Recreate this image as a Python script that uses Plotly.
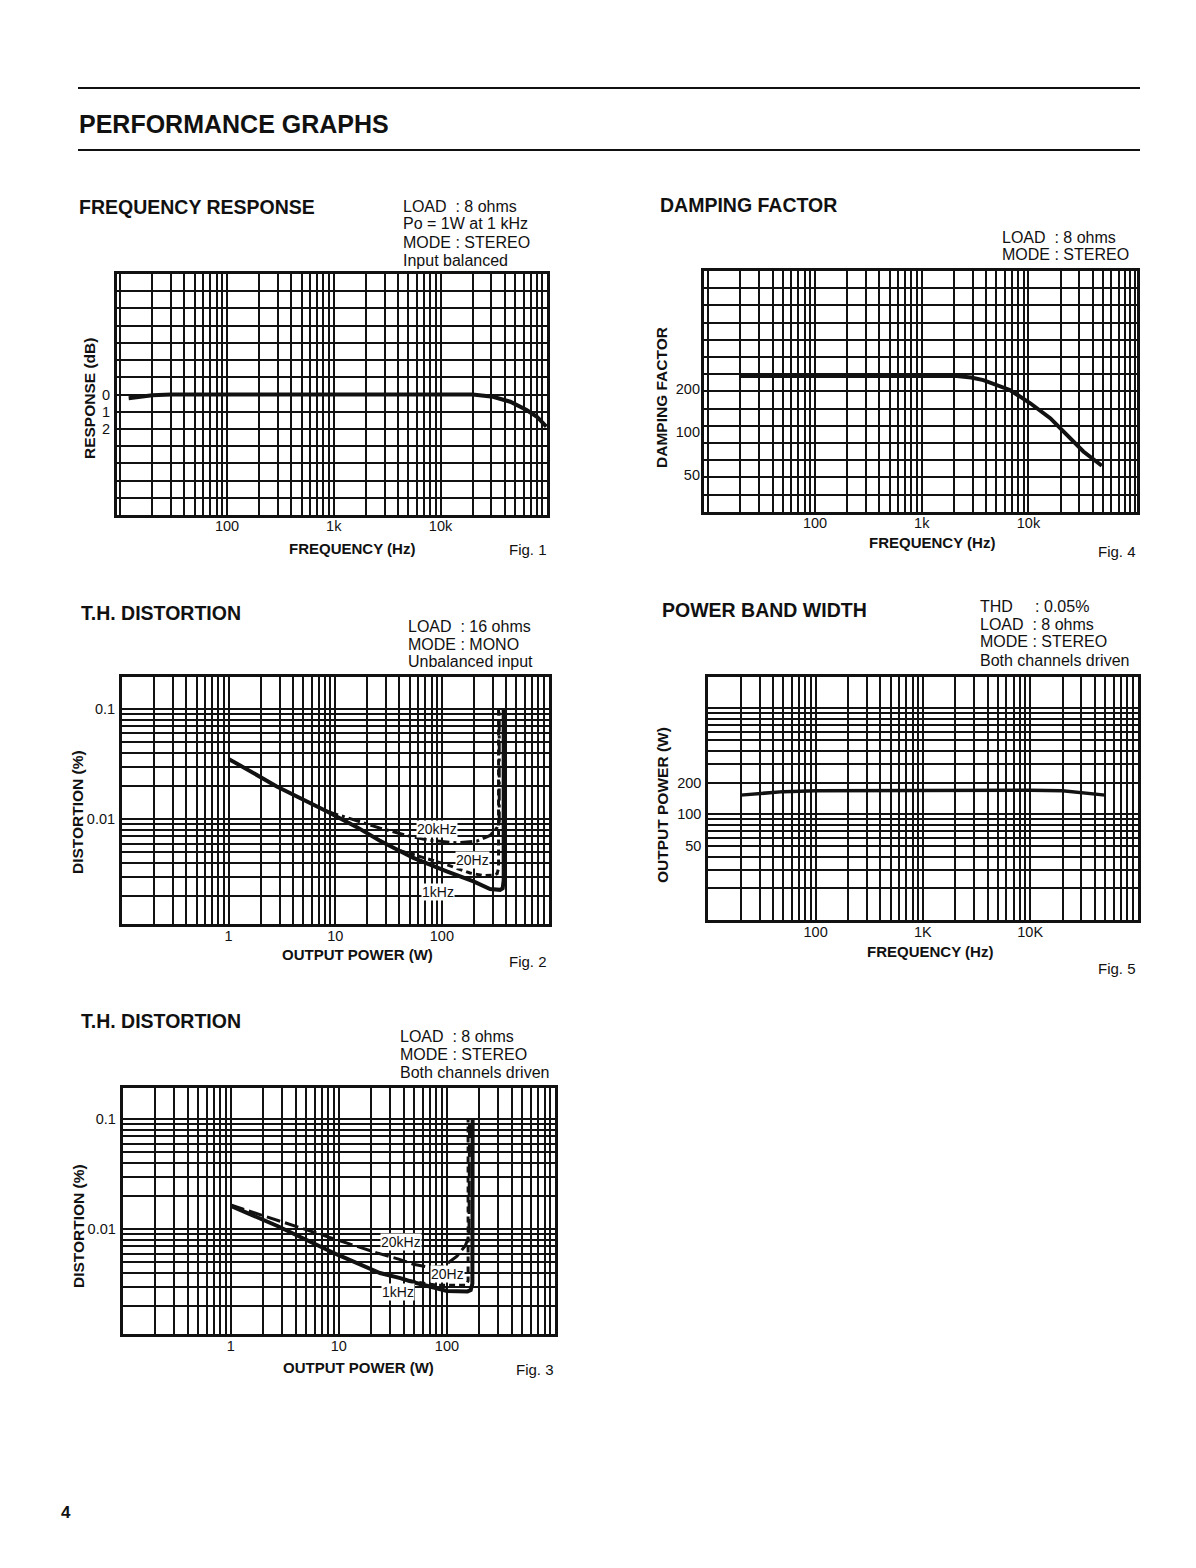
import math
import plotly.graph_objects as go

W, H = 1196, 1568
INK = "#111111"
FONT = "Liberation Sans, Arial, sans-serif"

# ---------------- data ----------------
# Fig. 1  Frequency response (dB, printed as 0 / 1 / 2 below 0 dB)
fr_freq = [12, 20, 30, 100, 1000, 10000, 20000, 31000, 45000, 64000, 80000, 98000]
fr_resp = [-0.22, -0.05, 0.0, 0.0, 0.0, 0.0, 0.0, -0.13, -0.42, -0.9, -1.29, -1.87]
fr_ytick_vals = [0, -1, -2]
fr_ytick_text = ["0", "1", "2"]

freq_tick_vals = [100, 1000, 10000]
freq_tick_text = ["100", "1k", "10k"]
pbw_tick_text = ["100", "1K", "10K"]

# Fig. 4  Damping factor
df_freq = [20, 100, 1000, 2130, 2900, 3780, 6700, 10400, 16000, 22900, 32700, 48700]
df_val = [247, 247, 247, 247, 241, 231, 197, 159, 125, 95, 73, 58]
df_tick_vals = [200, 100, 50]
df_tick_text = ["200", "100", "50"]

# Fig. 2  THD, 16 ohms mono
thd16_1k_p = [1, 2.8, 8.3, 15.8, 26, 54, 111, 198, 283, 351, 372, 380, 380]
thd16_1k_d = [0.0352, 0.0199, 0.0118, 0.0085, 0.0064, 0.00444, 0.00336, 0.00272,
              0.00232, 0.00228, 0.00236, 0.0028, 0.1]
thd16_20k_p = [8.3, 15.8, 26, 47, 77, 138, 212, 283, 330, 345, 345]
thd16_20k_d = [0.0118, 0.0096, 0.0083, 0.0071, 0.0064, 0.0061, 0.0063, 0.0071, 0.0084, 0.0095, 0.1]
thd16_20h_p = [40, 54, 111, 184, 245, 304, 330, 340, 340]
thd16_20h_d = [0.0052, 0.00477, 0.00386, 0.00324, 0.00307, 0.0031, 0.0032, 0.0036, 0.1]

# Fig. 3  THD, 8 ohms stereo
thd8_1k_p = [1, 2.7, 9.6, 24, 37, 49, 100, 155, 166, 172, 173]
thd8_1k_d = [0.0163, 0.0107, 0.0059, 0.0040, 0.0036, 0.0033, 0.00275, 0.00272, 0.0028, 0.0032, 0.1]
thd8_20k_p = [1, 4.4, 9.6, 22.5, 37, 49, 70, 93, 124, 148, 160, 162]
thd8_20k_d = [0.0166, 0.0103, 0.0080, 0.0061, 0.0053, 0.0048, 0.0045, 0.0046, 0.0057, 0.0071, 0.0086, 0.1]
thd8_20h_p = [45, 80, 107, 150, 157, 157]
thd8_20h_d = [0.0034, 0.0031, 0.0031, 0.0031, 0.0034, 0.1]

thd_x_vals = [1, 10, 100]
thd_x_text = ["1", "10", "100"]
thd_y_vals = [0.1, 0.01]
thd_y_text = ["0.1", "0.01"]

# Fig. 5  Power band width
pb_freq = [20, 30, 50, 100, 1000, 10000, 20000, 30000, 50000]
pb_pow = [152, 158, 164, 167, 169, 169, 167, 161, 152]
pb_tick_vals = [200, 100, 50]
pb_tick_text = ["200", "100", "50"]


# ---------------- helpers ----------------
def log_grid(lo, hi):
    vals = []
    for e in range(math.floor(lo) - 1, math.ceil(hi) + 1):
        for m in range(1, 10):
            v = m * 10.0 ** e
            if lo - 1e-6 <= math.log10(v) <= hi + 1e-6:
                vals.append(v)
    return vals


def labelled(vals, lab_vals, lab_text):
    out = []
    for v in vals:
        t = ""
        for lv, lt in zip(lab_vals, lab_text):
            if abs(v - lv) <= 1e-9 * max(1.0, abs(lv)):
                t = lt
        out.append(t)
    return out


def xdom(a, b):
    return [a / W, b / W]


def ydom(top, bottom):
    return [1 - bottom / H, 1 - top / H]


TICKFONT = dict(family=FONT, size=14.5, color=INK)
base_axis = dict(showline=True, mirror=True, linewidth=3, linecolor=INK,
                 showgrid=True, gridcolor=INK, gridwidth=1.6, zeroline=False,
                 ticks="", tickfont=TICKFONT,
                 fixedrange=True, tickmode="array")


def log_axis(dom, rng, anchor, lab_vals, lab_text, is_x):
    g = log_grid(rng[0], rng[1])
    d = dict(base_axis)
    d.update(type="log", range=rng, domain=dom, anchor=anchor,
             tickvals=g, ticktext=labelled(g, lab_vals, lab_text),
             ticklabelstandoff=-4 if is_x else 1)
    return d


fig = go.Figure()

line_solid = dict(color=INK, width=4)

# Fig 1
fig.add_trace(go.Scatter(x=fr_freq, y=fr_resp, mode="lines", line=line_solid,
                         xaxis="x", yaxis="y", hoverinfo="skip"))
# Fig 2
fig.add_trace(go.Scatter(x=thd16_20k_p, y=thd16_20k_d, mode="lines",
                         line=dict(color=INK, width=3, dash="12px,4px,3px,4px"),
                         xaxis="x2", yaxis="y2", hoverinfo="skip"))
fig.add_trace(go.Scatter(x=thd16_20h_p, y=thd16_20h_d, mode="lines",
                         line=dict(color=INK, width=3, dash="6px,4px"),
                         xaxis="x2", yaxis="y2", hoverinfo="skip"))
fig.add_trace(go.Scatter(x=thd16_1k_p, y=thd16_1k_d, mode="lines", line=line_solid,
                         xaxis="x2", yaxis="y2", hoverinfo="skip"))
# Fig 3
fig.add_trace(go.Scatter(x=thd8_20k_p, y=thd8_20k_d, mode="lines",
                         line=dict(color=INK, width=3, dash="14px,5px"),
                         xaxis="x3", yaxis="y3", hoverinfo="skip"))
fig.add_trace(go.Scatter(x=thd8_20h_p, y=thd8_20h_d, mode="lines",
                         line=dict(color=INK, width=3, dash="6px,4px"),
                         xaxis="x3", yaxis="y3", hoverinfo="skip"))
fig.add_trace(go.Scatter(x=thd8_1k_p, y=thd8_1k_d, mode="lines", line=line_solid,
                         xaxis="x3", yaxis="y3", hoverinfo="skip"))
# Fig 4 (grid axis carries the curve, overlay axis carries the value labels)
fig.add_trace(go.Scatter(x=df_freq, y=df_val, mode="lines", line=line_solid,
                         xaxis="x4", yaxis="y4", hoverinfo="skip"))
fig.add_trace(go.Scatter(x=df_freq, y=df_val, mode="lines",
                         line=dict(color="rgba(0,0,0,0)", width=0),
                         xaxis="x4", yaxis="y6", hoverinfo="skip"))
# Fig 5
fig.add_trace(go.Scatter(x=pb_freq, y=pb_pow, mode="lines", line=dict(color=INK, width=3.5),
                         xaxis="x5", yaxis="y5", hoverinfo="skip"))

# ---- axes ----
fr_y = dict(base_axis)
fr_rows = list(range(-7, 8))
fr_y.update(range=[-7, 7], domain=ydom(274, 515), anchor="x",
            tickvals=fr_rows, ticktext=labelled(fr_rows, fr_ytick_vals, fr_ytick_text),
            ticklabelstandoff=1)

df_lo, df_hi = 1.441, 3.129
df_rows = [10 ** (df_lo + (df_hi - df_lo) * k / 14) for k in range(15)]
df_y = dict(base_axis)
df_y.update(type="log", range=[df_lo, df_hi], domain=ydom(271, 511.7), anchor="x4",
            tickvals=df_rows, ticktext=[""] * len(df_rows))
df_y_lab = dict(type="log", range=[df_lo, df_hi], overlaying="y4", anchor="x4", side="left",
                showgrid=False, showline=False, zeroline=False, ticks="",
                tickmode="array", tickvals=df_tick_vals, ticktext=df_tick_text,
                tickfont=TICKFONT, ticklabelstandoff=3, fixedrange=True)

fig.update_layout(
    width=W, height=H, margin=dict(l=0, r=0, t=0, b=0),
    paper_bgcolor="white", plot_bgcolor="white", showlegend=False,
    xaxis=log_axis(xdom(117, 547.3), [0.97, 5.0], "y", freq_tick_vals, freq_tick_text, True),
    yaxis=fr_y,
    xaxis2=log_axis(xdom(122, 548.5), [-1, 3], "y2", thd_x_vals, thd_x_text, True),
    yaxis2=log_axis(ydom(677, 924.3), [-2.955, -0.71], "x2", thd_y_vals, thd_y_text, False),
    xaxis3=log_axis(xdom(122.7, 555), [-1, 3], "y3", thd_x_vals, thd_x_text, True),
    yaxis3=log_axis(ydom(1087.7, 1334.3), [-2.955, -0.713], "x3", thd_y_vals, thd_y_text, False),
    xaxis4=log_axis(xdom(704, 1137.3), [0.96, 5.02], "y4", freq_tick_vals, freq_tick_text, True),
    yaxis4=df_y,
    yaxis6=df_y_lab,
    xaxis5=log_axis(xdom(708.3, 1137.5), [1, 5], "y5", freq_tick_vals, pbw_tick_text, True),
    yaxis5=log_axis(ydom(676.7, 920.3), [1, 3.3], "x5", pb_tick_vals, pb_tick_text, False),
)


# ---- texts ----
annots = []


def txt(x, y, s, size, xanchor="left", angle=0, bg=None):
    d = dict(x=x / W, y=1 - y / H, xref="paper", yref="paper", text=s, showarrow=False,
             xanchor=xanchor, yanchor="middle", textangle=angle,
             font=dict(family=FONT, size=size, color=INK), borderpad=0)
    if bg:
        d["bgcolor"] = bg
    annots.append(d)


txt(78, 124, "<b>PERFORMANCE GRAPHS</b>", 25)
txt(66, 1512, "<b>4</b>", 17, xanchor="center")

# Fig 1
txt(78, 207, "<b>FREQUENCY RESPONSE</b>", 19.5)
for i, s in enumerate(["LOAD  : 8 ohms", "Po = 1W at 1 kHz", "MODE : STEREO", "Input balanced"]):
    txt(402, 206 + i * 18, s, 16)
txt(352, 548, "<b>FREQUENCY (Hz)</b>", 15, xanchor="center")
txt(508, 550, "Fig. 1", 15)
txt(89, 399, "<b>RESPONSE (dB)</b>", 15.5, xanchor="center", angle=-90)

# Fig 4
txt(659, 205, "<b>DAMPING FACTOR</b>", 19.5)
for i, s in enumerate(["LOAD  : 8 ohms", "MODE : STEREO"]):
    txt(1001, 237 + i * 17.5, s, 16)
txt(932, 542, "<b>FREQUENCY (Hz)</b>", 15, xanchor="center")
txt(1097, 551, "Fig. 4", 15)
txt(661, 398, "<b>DAMPING FACTOR</b>", 15.5, xanchor="center", angle=-90)

# Fig 2
txt(80, 613, "<b>T.H. DISTORTION</b>", 19.5)
for i, s in enumerate(["LOAD  : 16 ohms", "MODE : MONO", "Unbalanced input"]):
    txt(407, 626 + i * 18, s, 16)
txt(357, 955, "<b>OUTPUT POWER (W)</b>", 15, xanchor="center")
txt(508, 962, "Fig. 2", 15)
txt(77, 812, "<b>DISTORTION (%)</b>", 15.5, xanchor="center", angle=-90)
txt(437, 828.5, "20kHz", 14, xanchor="center", bg="white")
txt(472, 860, "20Hz", 14, xanchor="center", bg="white")
txt(438, 892, "1kHz", 14, xanchor="center", bg="white")

# Fig 3
txt(80, 1021, "<b>T.H. DISTORTION</b>", 19.5)
for i, s in enumerate(["LOAD  : 8 ohms", "MODE : STEREO", "Both channels driven"]):
    txt(399, 1036 + i * 18, s, 16)
txt(358, 1367, "<b>OUTPUT POWER (W)</b>", 15, xanchor="center")
txt(515, 1369, "Fig. 3", 15)
txt(78, 1226, "<b>DISTORTION (%)</b>", 15.5, xanchor="center", angle=-90)
txt(401, 1242, "20kHz", 14, xanchor="center", bg="white")
txt(448, 1274, "20Hz", 14, xanchor="center", bg="white")
txt(398, 1292, "1kHz", 14, xanchor="center", bg="white")

# Fig 5
txt(661, 610, "<b>POWER BAND WIDTH</b>", 19.5)
for i, s in enumerate(["THD     : 0.05%", "LOAD  : 8 ohms", "MODE : STEREO", "Both channels driven"]):
    txt(979, 606 + i * 18, s, 16)
txt(930, 951, "<b>FREQUENCY (Hz)</b>", 15, xanchor="center")
txt(1097, 968, "Fig. 5", 15)
txt(663, 805, "<b>OUTPUT POWER (W)</b>", 15.5, xanchor="center", angle=-90)

shapes = [
    dict(type="line", xref="paper", yref="paper", x0=78 / W, x1=1140 / W,
         y0=1 - 88 / H, y1=1 - 88 / H, line=dict(color=INK, width=2)),
    dict(type="line", xref="paper", yref="paper", x0=78 / W, x1=1140 / W,
         y0=1 - 150 / H, y1=1 - 150 / H, line=dict(color=INK, width=2)),
]

fig.update_layout(annotations=annots, shapes=shapes)

fig.write_html("out.html", config={"displayModeBar": False},
               post_script="document.body.style.margin='0px';")
